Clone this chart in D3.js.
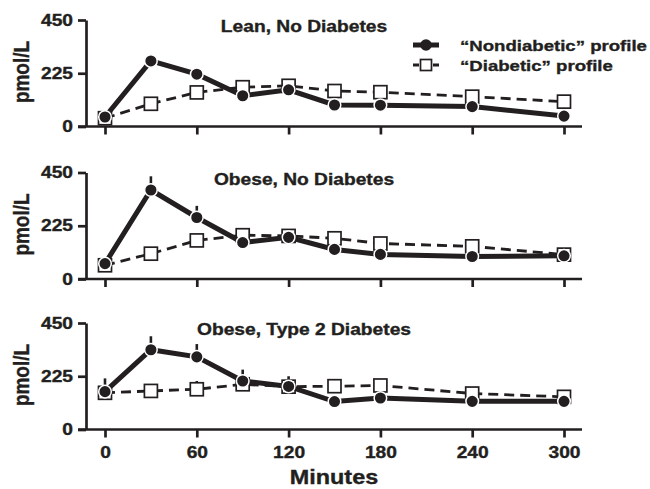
<!DOCTYPE html>
<html>
<head>
<meta charset="utf-8">
<script src="https://cdn.jsdelivr.net/npm/d3@7"></script>
<style>
  html, body { margin: 0; padding: 0; background: #fff; }
  svg text { font-family: "Liberation Sans", Arial, Helvetica, sans-serif; font-weight: bold; fill: #231f20; stroke: #231f20; stroke-width: 0.35px; }
</style>
</head>
<body>
<div id="chart"></div>
<script>
// Sampling times (minutes) and axis ticks
const minutes = [0, 30, 60, 90, 120, 150, 180, 240, 300];
const xTicks = [0, 60, 120, 180, 240, 300];
const yTicks = [0, 225, 450];

const panelTitles = ["Lean, No Diabetes", "Obese, No Diabetes", "Obese, Type 2 Diabetes"];
const legendLabels = ["\u201CNondiabetic\u201D profile", "\u201CDiabetic\u201D profile"];

// pmol/L
const nondiabeticLean = [40, 277, 221, 130, 155, 91, 90, 84, 44];
const diabeticLean = [35, 96, 144, 166, 172, 150, 145, 126, 105];
const nondiabeticObese = [65, 376, 260, 154, 176, 125, 104, 95, 98];
const diabeticObese = [58, 107, 163, 185, 182, 172, 150, 138, 103];
const nondiabeticT2D = [160, 337, 307, 205, 182, 118, 133, 119, 119];
const diabeticT2D = [155, 163, 170, 191, 181, 183, 186, 152, 138];

// upper end of error bars (null = none visible)
const ndErrLean = [null, null, null, null, null, null, null, null, null];
const ndErrObese = [null, 434, 309, null, null, null, null, null, null];
const ndErrT2D = [216, 394, 361, 253, 225, null, null, null, null];
const dErrT2D = [null, null, 205, null, null, 195, null, null, null];

const panels = [
  { title: panelTitles[0], nd: nondiabeticLean, d: diabeticLean, ndErr: ndErrLean, dErr: null },
  { title: panelTitles[1], nd: nondiabeticObese, d: diabeticObese, ndErr: ndErrObese, dErr: null },
  { title: panelTitles[2], nd: nondiabeticT2D, d: diabeticT2D, ndErr: ndErrT2D, dErr: dErrT2D }
];

const W = 650, H = 489;
const ink = "#231f20";
const SX = 1.2; // the source lettering is set wide
const axisX = 86;
const baselines = [126.5, 279, 429.5];
const plotH = 106.5;

const svg = d3.select("#chart").append("svg")
  .attr("width", W).attr("height", H);

const x = d3.scaleLinear().domain([0, 300]).range([105, 564]);

function label(parent, txt, tx, ty, size, anchor) {
  return parent.append("text")
    .attr("transform", `translate(${tx},${ty}) scale(${SX},1)`)
    .attr("text-anchor", anchor)
    .style("font-size", size + "px")
    .text(txt);
}

panels.forEach((p, k) => {
  const y0 = baselines[k];
  const y = d3.scaleLinear().domain([0, 450]).range([y0, y0 - plotH]);
  const g = svg.append("g");

  // y axis
  const ya = g.append("g")
    .attr("transform", `translate(${axisX},0)`)
    .call(d3.axisLeft(y).tickValues(yTicks).tickSize(8).tickSizeOuter(0).tickPadding(5));
  ya.selectAll("path, line").attr("stroke", ink).attr("stroke-width", 2.7);
  ya.selectAll("text")
    .attr("x", -13 / SX)
    .attr("transform", `scale(${SX},1)`)
    .style("font-size", "16px")
    .attr("fill", ink);

  // x axis
  const xa = g.append("g")
    .attr("transform", `translate(0,${y0})`)
    .call(d3.axisBottom(x).tickValues(xTicks).tickSize(8).tickSizeOuter(0).tickPadding(9)
      .tickFormat(k === 2 ? d3.format("d") : () => ""));
  xa.select(".domain").remove();
  xa.append("line")
    .attr("x1", x.range()[0] - 27).attr("x2", x.range()[1] + 18)
    .attr("stroke", ink);
  xa.selectAll("line").attr("stroke", ink).attr("stroke-width", 2.7);
  xa.selectAll("text")
    .attr("transform", `scale(${SX},1)`)
    .style("font-size", "16px")
    .attr("fill", ink);

  // y label
  g.append("text")
    .attr("transform", `translate(29,${y0 - 54.5}) rotate(-90) scale(1,${SX})`)
    .attr("text-anchor", "middle")
    .style("font-size", "19px")
    .text("pmol/L");

  // panel title
  label(g, p.title, 304, y0 - 94.5, 16, "middle");

  const line = d3.line().x((v, i) => x(minutes[i])).y(v => y(v));

  // "Diabetic" profile: dashed line, open squares
  g.append("path").attr("d", line(p.d))
    .attr("fill", "none").attr("stroke", ink)
    .attr("stroke-width", 2.8).attr("stroke-dasharray", "10,6");
  if (p.dErr) {
    g.selectAll(".derr").data(minutes.filter((m, i) => p.dErr[i] != null)).enter()
      .append("line")
      .attr("x1", m => x(m)).attr("x2", m => x(m))
      .attr("y1", m => y(p.d[minutes.indexOf(m)]))
      .attr("y2", m => y(p.dErr[minutes.indexOf(m)]))
      .attr("stroke", ink).attr("stroke-width", 2.5);
  }
  g.selectAll(".sq").data(p.d).enter().append("rect")
    .attr("x", (v, i) => x(minutes[i]) - 6.5)
    .attr("y", v => y(v) - 6.5)
    .attr("width", 13).attr("height", 13)
    .attr("fill", "#fff").attr("stroke", ink).attr("stroke-width", 1.7);

  // "Nondiabetic" profile: thick solid line, filled circles
  g.selectAll(".nderr").data(minutes.filter((m, i) => p.ndErr[i] != null)).enter()
    .append("line")
    .attr("x1", m => x(m)).attr("x2", m => x(m))
    .attr("y1", m => y(p.nd[minutes.indexOf(m)]))
    .attr("y2", m => y(p.ndErr[minutes.indexOf(m)]))
    .attr("stroke", ink).attr("stroke-width", 2.6);
  g.append("path").attr("d", line(p.nd))
    .attr("fill", "none").attr("stroke", ink).attr("stroke-width", 5);
  g.selectAll(".dot").data(p.nd).enter().append("circle")
    .attr("cx", (v, i) => x(minutes[i]))
    .attr("cy", v => y(v))
    .attr("r", 6.3)
    .attr("fill", ink).attr("stroke", "#fff").attr("stroke-width", 1.5);
});

// x axis title
label(svg, "Minutes", 334, 484, 19.5, "middle");

// legend
const lg = svg.append("g");
lg.append("line").attr("x1", 413).attr("x2", 439).attr("y1", 45).attr("y2", 45)
  .attr("stroke", ink).attr("stroke-width", 5);
lg.append("circle").attr("cx", 426).attr("cy", 45).attr("r", 5.8).attr("fill", ink);
lg.append("line").attr("x1", 413).attr("x2", 439).attr("y1", 65).attr("y2", 65)
  .attr("stroke", ink).attr("stroke-width", 2.8).attr("stroke-dasharray", "6,14,6");
lg.append("rect").attr("x", 420.5).attr("y", 59.5).attr("width", 11).attr("height", 11)
  .attr("fill", "#fff").attr("stroke", ink).attr("stroke-width", 1.7);
label(lg, legendLabels[0], 460, 50.5, 15.5, "start");
label(lg, legendLabels[1], 460, 70.5, 15.5, "start");
</script>
</body>
</html>
